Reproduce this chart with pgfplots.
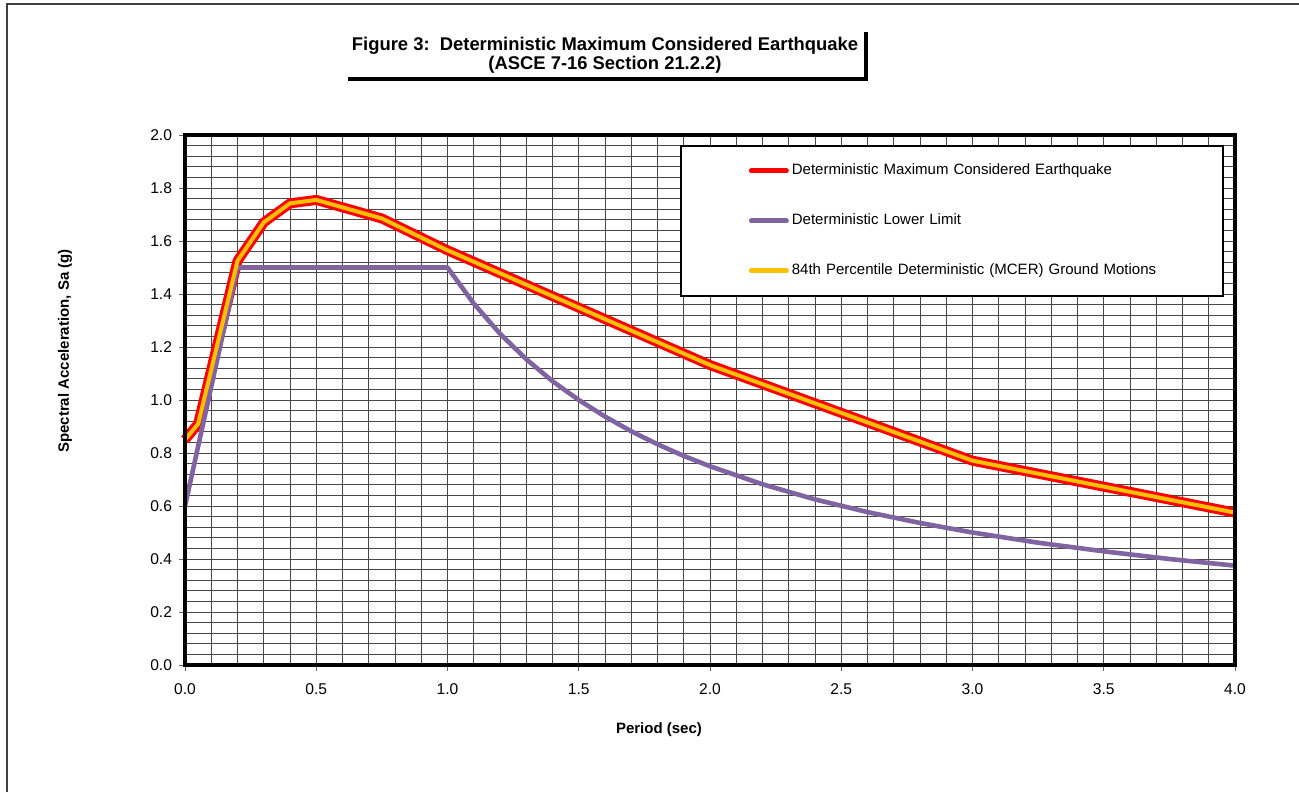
\documentclass[border=0pt]{standalone}
\usepackage{pgfplots}
\pgfplotsset{compat=1.18}
\usepackage{fontspec}
\setmainfont{Liberation Sans}
\definecolor{mcered}{RGB}{255,0,0}
\definecolor{mceyel}{RGB}{255,192,0}
\definecolor{llpurple}{RGB}{128,100,162}

\begin{document}
\begin{tikzpicture}[x=1bp,y=1bp]
\path[use as bounding box] (0,0) rectangle (649.5,396);
\draw[black!75, line width=0.8bp] (3.5,0) -- (3.5,394) -- (649.5,394);
% title
\node[font=\fontsize{9.2bp}{10bp}\selectfont\bfseries, inner sep=0pt] at (302.5,373) {Figure 3:\ \ Deterministic Maximum Considered Earthquake};
\node[font=\fontsize{9.2bp}{10bp}\selectfont\bfseries, inner sep=0pt] at (302.5,363.5) {(ASCE 7-16 Section 21.2.2)};
\draw[line width=2bp] (174,356.5) -- (433,356.5) -- (433,380);

\begin{axis}[
  at={(92.5bp,63.5bp)}, anchor=origin,
  scale only axis, width=525bp, height=265bp,
  xmin=0, xmax=4, ymin=0, ymax=2,
  xtick={0,0.5,...,4}, ytick={0,0.2,...,2.0},
  minor x tick num=4, minor y tick num=4,
  xtick pos=bottom, ytick pos=left,
  grid=both,
  major grid style={black!72, line width=0.5bp},
  minor grid style={black!72, line width=0.5bp},
  axis line style={black, line width=0.5bp},
  tick align=outside, major tick length=3bp, minor tick length=0pt,
  tick style={black!60, line width=0.5bp},
  ticklabel style={font=\fontsize{7.8bp}{9bp}\selectfont},
  xticklabel style={yshift=-3bp},
  /pgf/number format/.cd, fixed, fixed zerofill, precision=1, assume math mode=true,
  /pgfplots/.cd,
  clip=false,
  xlabel={Period (sec)},
  ylabel={Spectral Acceleration, Sa (g)},
  every axis x label/.style={at={(axis description cs:0.4514,-0.1226)}, anchor=center, font=\fontsize{7.5bp}{9bp}\selectfont\bfseries},
  every axis y label/.style={at={(axis description cs:-0.1143,0.5925)}, rotate=90, anchor=center, font=\fontsize{7.5bp}{9bp}\selectfont\bfseries},
  legend cell align=left,
  legend style={
    at={(axis cs:1.886,1.962)}, anchor=north west,
    draw=black, line width=0.8bp, fill=white,
    inner xsep=0pt, inner ysep=0pt,
    row sep=0pt, column sep=1.5bp,
    font=\fontsize{7.5bp}{9bp}\selectfont,
    nodes={inner sep=0pt, minimum height=25bp, text width=215.5bp, align=left},
  },
  legend image code/.code={
    \path[draw=none, fill=none] (-34bp,0) -- (0bp,0);
    \draw[#1, line width=2.6bp, line cap=round] (1.3bp,0) -- (18.7bp,0);
  },
]
\addplot[mcered, line width=5bp, line join=round] coordinates {
  (0,0.85) (0.05,0.91) (0.2,1.525) (0.3,1.67) (0.4,1.742) (0.5,1.755)
  (0.75,1.685) (1.0,1.565) (2.0,1.132) (3.0,0.771) (4.0,0.575)};
\addlegendentry{Deterministic Maximum Considered Earthquake}
\addplot[llpurple, line width=2.3bp, line join=round] coordinates {
  (0,0.6) (0.2,1.5) (1.0,1.5) (1.1,1.364) (1.2,1.25) (1.3,1.154) (1.4,1.071)
  (1.5,1.0) (1.6,0.9375) (1.7,0.882) (1.8,0.833) (1.9,0.789) (2.0,0.75)
  (2.2,0.682) (2.4,0.625) (2.6,0.577) (2.8,0.536) (3.0,0.5) (3.25,0.4615)
  (3.5,0.429) (3.75,0.4) (4.0,0.375)};
\addlegendentry{Deterministic Lower Limit}
\addplot[mceyel, line width=2bp, line join=round] coordinates {
  (0,0.85) (0.05,0.91) (0.2,1.525) (0.3,1.67) (0.4,1.742) (0.5,1.755)
  (0.75,1.685) (1.0,1.565) (2.0,1.132) (3.0,0.771) (4.0,0.575)};
\addlegendentry{84th Percentile Deterministic (MCER) Ground Motions}
\draw[black, line width=2bp] (rel axis cs:0,0) rectangle (rel axis cs:1,1);
\end{axis}
\end{tikzpicture}
\end{document}
